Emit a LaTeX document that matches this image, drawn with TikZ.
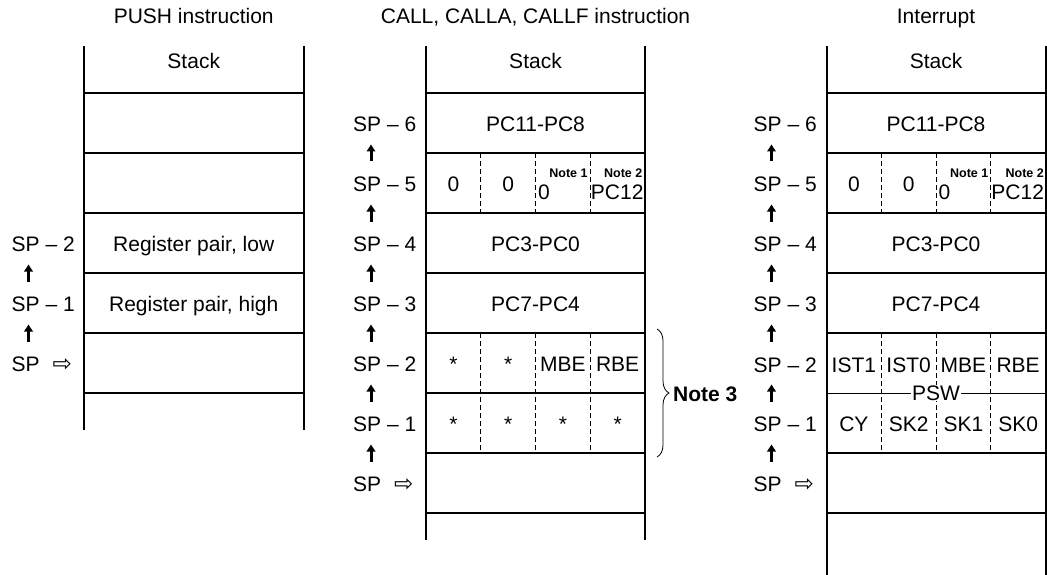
\documentclass[tikz,border=0pt]{standalone}
\usepackage{fontspec}
\setmainfont{Liberation Sans}
\newfontfamily\djv{DejaVu Sans}
\usetikzlibrary{arrows.meta,decorations.pathreplacing}
\begin{document}
\begin{tikzpicture}[x=1pt,y=-1pt,
  vline/.style={line width=2pt},
  hline/.style={line width=1.2pt},
  dline/.style={line width=0.8pt, dash pattern=on 5pt off 3pt},
  txt/.style={font=\fontsize{21}{25}\selectfont, inner sep=0pt, anchor=base},
  lbl/.style={txt, anchor=base west},
  notetxt/.style={font=\fontsize{12.5}{14}\selectfont\bfseries, inner sep=0pt},
  uparrow/.style={line width=3pt, -{Triangle[width=8.5pt,length=7pt]}},
  bracestyle/.style={line width=0.8pt, decorate, decoration={brace, amplitude=12pt}},
]
\useasboundingbox (0,0) rectangle (1047,575);
\newcommand{\sparrow}{SP\hspace{13pt}\raisebox{0.5pt}{\djv\fontsize{23}{23}\selectfont ⇨}}

% ---------------- titles
\node[txt] (t1) at (193.75,23.5) {PUSH instruction};
\node[txt] (t2) at (535.5,23.5) {CALL, CALLA, CALLF instruction};
\node[txt] (t3) at (936,23.5) {Interrupt};

% ---------------- left table (PUSH)
\draw[vline] (83.5,46) -- (83.5,430);
\draw[vline] (304,46) -- (304,430);
\foreach \y in {93,153,213,273,333,393} \draw[hline] (83.5,\y) -- (304,\y);
\node[txt] (ls) at (193.75,68.5) {Stack};
\node[txt] (lrl) at (193.75,251.5) {Register pair, low};
\node[txt] (lrh) at (193.75,311.5) {Register pair, high};
\node[lbl] (la2) at (11.5,251.5) {SP \textendash\ 2};
\node[lbl] (la1) at (11.5,311.5) {SP \textendash\ 1};
\node[lbl] (la0) at (11.5,371.5) {\sparrow};
\foreach \y in {273,333} \draw[uparrow] (28.5,\y+8.5) -- (28.5,\y-8.5);

% ---------------- middle table (CALL)
\draw[vline] (426,46) -- (426,540);
\draw[vline] (645,46) -- (645,540);
\foreach \y in {93,153,213,273,333,393,453,513} \draw[hline] (426,\y) -- (645,\y);
\foreach \x in {480.75,535.5,590.25} {
  \draw[dline] (\x,153) -- (\x,213);
  \draw[dline] (\x,333) -- (\x,453);
}
\node[txt] (ms) at (535.5,68.5) {Stack};
\node[txt] (m6) at (535.5,131.5) {PC11-PC8};
\node[txt] (m5a) at (453.4,191.5) {0};
\node[txt] (m5b) at (508.1,191.5) {0};
\node[notetxt, anchor=base east] (mn1) at (587.75,178) {Note 1};
\node[txt, anchor=base west] (m5c) at (538,200) {0};
\node[notetxt, anchor=base east] (mn2) at (642.5,178) {Note 2};
\node[txt, anchor=base west] (m5d) at (590.75,200) {PC12};
\node[txt] (m4) at (535.5,251.5) {PC3-PC0};
\node[txt] (m3) at (535.5,311.5) {PC7-PC4};
\node[txt] (m2a) at (453.4,371.5) {*};
\node[txt] (m2b) at (508.1,371.5) {*};
\node[txt] (m2c) at (562.9,371.5) {MBE};
\node[txt] (m2d) at (617.6,371.5) {RBE};
\node[txt] (m1a) at (453.4,431.5) {*};
\node[txt] (m1b) at (508.1,431.5) {*};
\node[txt] (m1c) at (562.9,431.5) {*};
\node[txt] (m1d) at (617.6,431.5) {*};
\node[lbl] (ma6) at (353,131.5) {SP \textendash\ 6};
\node[lbl] (ma5) at (353,191.5) {SP \textendash\ 5};
\node[lbl] (ma4) at (353,251.5) {SP \textendash\ 4};
\node[lbl] (ma3) at (353,311.5) {SP \textendash\ 3};
\node[lbl] (ma2) at (353,371.5) {SP \textendash\ 2};
\node[lbl] (ma1) at (353,431.5) {SP \textendash\ 1};
\node[lbl] (ma0) at (353,491.5) {\sparrow};
\foreach \y in {153,213,273,333,393,453} \draw[uparrow] (371,\y+8.5) -- (371,\y-8.5);
\coordinate (bt) at (657,329);
\coordinate (bb) at (657,457);
\draw[bracestyle] (bt) -- (bb);
\node[txt, font=\fontsize{21}{25}\selectfont\bfseries, anchor=base west] (n3) at (673,401) {Note 3};

% ---------------- right table (Interrupt)
\draw[vline] (826.5,46) -- (826.5,575);
\draw[vline] (1045.5,46) -- (1045.5,575);
\foreach \y in {93,153,213,273,333,453,513} \draw[hline] (826.5,\y) -- (1045.5,\y);
\draw[line width=0.9pt] (826.5,393) -- (1045.5,393);
\foreach \x in {881.25,936,990.75} {
  \draw[dline] (\x,153) -- (\x,213);
  \draw[dline] (\x,333) -- (\x,453);
}
\node[txt] (rs) at (936,68.5) {Stack};
\node[txt] (r6) at (936,131.5) {PC11-PC8};
\node[txt] (r5a) at (853.9,191.5) {0};
\node[txt] (r5b) at (908.6,191.5) {0};
\node[notetxt, anchor=base east] (rn1) at (988.5,178) {Note 1};
\node[txt, anchor=base west] (r5c) at (938.5,200) {0};
\node[notetxt, anchor=base east] (rn2) at (1044,178) {Note 2};
\node[txt, anchor=base west] (r5d) at (991.25,200) {PC12};
\node[txt] (r4) at (936,251.5) {PC3-PC0};
\node[txt] (r3) at (936,311.5) {PC7-PC4};
\node[txt] (r2a) at (853.9,372) {IST1};
\node[txt] (r2b) at (908.6,372) {IST0};
\node[txt] (r2c) at (963.4,372) {MBE};
\node[txt] (r2d) at (1018.1,372) {RBE};
\node[txt, anchor=center, fill=white, inner xsep=1.5pt, inner ysep=0.5pt] (psw) at (936,393) {PSW};
\node[txt] (r1a) at (853.9,431.5) {CY};
\node[txt] (r1b) at (908.6,431.5) {SK2};
\node[txt] (r1c) at (963.4,431.5) {SK1};
\node[txt] (r1d) at (1018.1,431.5) {SK0};
\node[lbl] (ra6) at (753.5,131.5) {SP \textendash\ 6};
\node[lbl] (ra5) at (753.5,191.5) {SP \textendash\ 5};
\node[lbl] (ra4) at (753.5,251.5) {SP \textendash\ 4};
\node[lbl] (ra3) at (753.5,311.5) {SP \textendash\ 3};
\node[lbl] (ra2) at (753.5,372) {SP \textendash\ 2};
\node[lbl] (ra1) at (753.5,431.5) {SP \textendash\ 1};
\node[lbl] (ra0) at (753.5,491.5) {\sparrow};
\foreach \y in {153,213,273,333,393,453} \draw[uparrow] (771.5,\y+8.5) -- (771.5,\y-8.5);
\end{tikzpicture}
\end{document}
